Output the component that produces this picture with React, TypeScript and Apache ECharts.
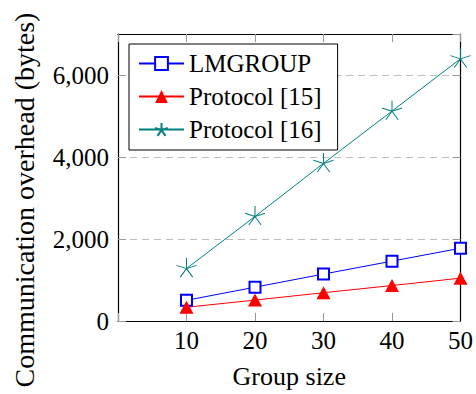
import React, { useEffect, useRef } from "react";
import * as echarts from "echarts";

const groupSizes = [10, 20, 30, 40, 50];
const lmgroup = [505, 825, 1145, 1460, 1775];
const protocol15 = [335, 510, 690, 865, 1045];
const protocol16 = [1280, 2550, 3845, 5120, 6395];
const seriesNames = ["LMGROUP", "Protocol [15]", "Protocol [16]"];
const xTitle = "Group size";
const yTitle = "Communication overhead (bytes)";

const FONT = "Liberation Serif";
const STAR =
  "path://M0 0L0 -100M0 0L-95.1 -30.9M0 0L-58.8 80.9M0 0L58.8 80.9M0 0L95.1 -30.9";

export default function App() {
  const ref = useRef<HTMLDivElement>(null);
  useEffect(() => {
    if (!ref.current) return;
    const chart = echarts.init(ref.current, null, { renderer: "svg" });
    const pairs = (ys: number[]) => groupSizes.map((x, i) => [x, ys[i]]);
    const tick = { inside: true, length: 8, lineStyle: { color: "#999", width: 1 } };
    const line = { show: true, onZero: false, lineStyle: { color: "#000", width: 1.2 } };
    chart.setOption({
      animation: false,
      textStyle: { fontFamily: FONT },
      grid: { left: 118, right: 11, top: 34, bottom: 71 },
      legend: {
        orient: "vertical",
        left: 129,
        top: 44,
        itemWidth: 45,
        itemHeight: 16,
        itemGap: 8,
        padding: [7, 16, 8, 9],
        backgroundColor: "#fff",
        borderColor: "#000",
        borderWidth: 1,
        borderRadius: 0,
        textStyle: { fontFamily: FONT, fontSize: 25, color: "#000" },
        data: seriesNames,
      },
      xAxis: [
        {
          type: "value",
          min: 0,
          max: 50,
          interval: 10,
          position: "bottom",
          axisLine: line,
          axisTick: tick,
          splitLine: { show: false },
          axisLabel: {
            formatter: (v: number) => (v === 0 ? "" : String(v)),
            fontFamily: FONT,
            fontSize: 25,
            color: "#000",
            margin: 7,
          },
          name: xTitle,
          nameLocation: "middle",
          nameGap: 42,
          nameTextStyle: { fontFamily: FONT, fontSize: 26, color: "#000" },
        },
        {
          type: "value",
          min: 0,
          max: 50,
          interval: 10,
          position: "top",
          z: 1,
          axisLine: line,
          axisTick: tick,
          splitLine: { show: false },
          axisLabel: { show: false },
        },
      ],
      yAxis: [
        {
          type: "value",
          min: 0,
          max: 7000,
          interval: 2000,
          position: "left",
          axisLine: line,
          axisTick: tick,
          splitLine: { show: true, lineStyle: { color: "#bdbdbd", width: 1, type: [7, 5] } },
          axisLabel: {
            formatter: (v: number) => (v % 2000 === 0 ? v.toLocaleString("en-US") : ""),
            fontFamily: FONT,
            fontSize: 25,
            color: "#000",
            margin: 9,
          },
        },
        {
          type: "value",
          min: 0,
          max: 7000,
          interval: 2000,
          position: "right",
          z: 1,
          axisLine: line,
          axisTick: tick,
          splitLine: { show: false },
          axisLabel: { show: false },
        },
      ],
      graphic: [
        {
          type: "text",
          x: 24,
          y: 200,
          rotation: Math.PI / 2,
          style: {
            text: yTitle,
            fontFamily: FONT,
            fontSize: 28,
            fill: "#000",
            align: "center",
            verticalAlign: "middle",
          },
        },
      ],
      series: [
        {
          name: seriesNames[0],
          type: "line",
          data: pairs(lmgroup),
          symbol: "emptyRect",
          symbolSize: 11,
          lineStyle: { color: "#0000ff", width: 1 },
          itemStyle: { color: "#0000ff", borderColor: "#0000ff", borderWidth: 1.2 },
          z: 3,
        },
        {
          name: seriesNames[1],
          type: "line",
          data: pairs(protocol15),
          symbol: "triangle",
          symbolSize: [14, 13],
          lineStyle: { color: "#ff0000", width: 1 },
          itemStyle: { color: "#ff0000", borderWidth: 0 },
          z: 3,
        },
        {
          name: seriesNames[2],
          type: "line",
          data: pairs(protocol16),
          symbol: STAR,
          symbolSize: [20, 19],
          symbolOffset: [0, -0.9],
          lineStyle: { color: "#008080", width: 1 },
          itemStyle: { color: "#008080", borderColor: "#008080", borderWidth: 1 },
          z: 3,
        },
      ],
    });
    return () => chart.dispose();
  }, []);
  return (
    <div
      ref={ref}
      style={{ position: "fixed", left: 0, top: 0, width: 476, height: 394, background: "#fff" }}
    />
  );
}
